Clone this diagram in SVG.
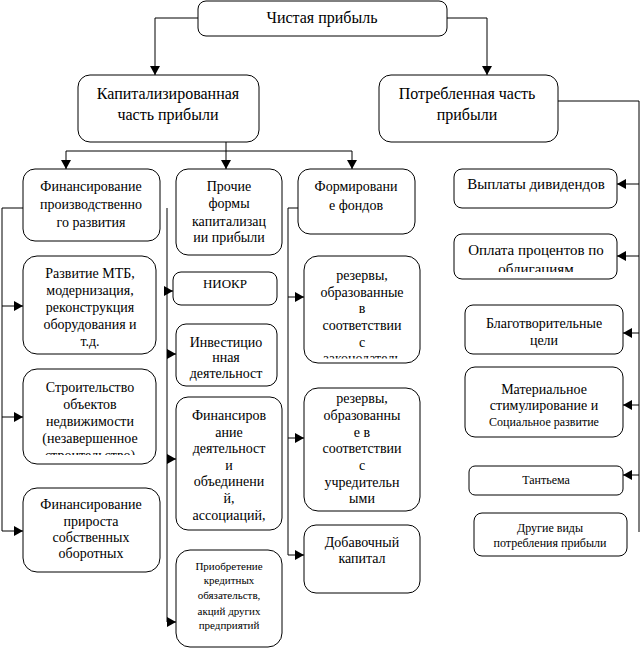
<svg xmlns="http://www.w3.org/2000/svg" width="642" height="650" viewBox="0 0 642 650">
<style>
.box{fill:#fff;stroke:#000;stroke-width:1}
.c{fill:none;stroke:#000;stroke-width:1}
text{font-family:"Liberation Serif","Times New Roman",serif;fill:#000;text-anchor:middle}
.t16{font-size:16px}
.t15{font-size:15px}
.t14{font-size:14px}
.t13{font-size:13px}
.t12{font-size:12px}
.t11{font-size:11px}
</style>
<defs>
<marker id="ah" markerUnits="userSpaceOnUse" markerWidth="10" markerHeight="10" refX="9" refY="5" orient="auto">
<path d="M0,0 L9,5 L0,10 z" fill="#000"/>
</marker>
<clipPath id="clipStroit"><rect x="23" y="369" width="133" height="86"/></clipPath>
<clipPath id="clipRez1"><rect x="304" y="256" width="116" height="102.5"/></clipPath>
<clipPath id="clipOpl"><rect x="454" y="234" width="163" height="38"/></clipPath>
</defs>
<rect width="642" height="650" fill="#fff"/>
<g id="connectors">
<path class="c" d="M198,18 H155 V75" marker-end="url(#ah)"/>
<path class="c" d="M447,18 H487 V75" marker-end="url(#ah)"/>
<path class="c" d="M226,142 V151 M66,151 H352"/>
<path class="c" d="M66,151 V169" marker-end="url(#ah)"/>
<path class="c" d="M226,151 V169" marker-end="url(#ah)"/>
<path class="c" d="M352,151 V169" marker-end="url(#ah)"/>
<path class="c" d="M558,101 H639 V532"/>
<path class="c" d="M639,184 H617" marker-end="url(#ah)"/>
<path class="c" d="M639,256 H617" marker-end="url(#ah)"/>
<path class="c" d="M639,333 H623" marker-end="url(#ah)"/>
<path class="c" d="M639,405 H623" marker-end="url(#ah)"/>
<path class="c" d="M639,475 H623" marker-end="url(#ah)"/>
<path class="c" d="M23,208 H2 V531"/>
<path class="c" d="M2,306 H23" marker-end="url(#ah)"/>
<path class="c" d="M2,417 H23" marker-end="url(#ah)"/>
<path class="c" d="M2,531 H23" marker-end="url(#ah)"/>
<path class="c" d="M167,208 V622"/>
<path class="c" d="M167,291 H173" marker-end="url(#ah)"/>
<path class="c" d="M167,354 H176" marker-end="url(#ah)"/>
<path class="c" d="M167,459 H176" marker-end="url(#ah)"/>
<path class="c" d="M167,622 H176" marker-end="url(#ah)"/>
<path class="c" d="M298,208 H288 V555"/>
<path class="c" d="M288,297 H304" marker-end="url(#ah)"/>
<path class="c" d="M288,438 H304" marker-end="url(#ah)"/>
<path class="c" d="M288,555 H304" marker-end="url(#ah)"/>
</g>
<g id="n-net-profit">
<rect class="box" x="198" y="1" width="249" height="35" rx="8"/>
<text class="t16" x="322" y="23">Чистая прибыль</text>
</g>
<g id="n-capitalized">
<rect class="box" x="78" y="75" width="181" height="67" rx="12"/>
<text class="t16" x="168" y="99">Капитализированная</text>
<text class="t16" x="168" y="120">часть прибыли</text>
</g>
<g id="n-consumed">
<rect class="box" x="379" y="75" width="179" height="67" rx="12"/>
<text class="t16" x="467" y="99">Потребленная часть</text>
<text class="t16" x="467" y="120">прибыли</text>
</g>
<g id="n-fin-prod">
<rect class="box" x="23" y="169" width="137" height="72" rx="12"/>
<text class="t14" x="91" y="191">Финансирование</text>
<text class="t14" x="91" y="209">производственно</text>
<text class="t14" x="91" y="227">го развития</text>
</g>
<g id="n-mtb">
<rect class="box" x="23" y="256" width="133" height="98" rx="14"/>
<text class="t14" x="90" y="278">Развитие МТБ,</text>
<text class="t14" x="90" y="295">модернизация,</text>
<text class="t14" x="90" y="312">реконструкция</text>
<text class="t14" x="90" y="329">оборудования и</text>
<text class="t14" x="90" y="346">т.д.</text>
</g>
<g id="n-construction">
<rect class="box" x="23" y="369" width="133" height="95" rx="14"/>
<g clip-path="url(#clipStroit)">
<text class="t14" x="90" y="392">Строительство</text>
<text class="t14" x="90" y="409">объектов</text>
<text class="t14" x="90" y="426">недвижимости</text>
<text class="t14" x="90" y="443">(незавершенное</text>
<text class="t14" x="90" y="460">строительство)</text>
</g>
</g>
<g id="n-working-capital">
<rect class="box" x="23" y="488" width="137" height="84" rx="14"/>
<text class="t14" x="91" y="509">Финансирование</text>
<text class="t14" x="91" y="526">прироста</text>
<text class="t14" x="91" y="542">собственных</text>
<text class="t14" x="91" y="558">оборотных</text>
</g>
<g id="n-other-forms">
<rect class="box" x="176" y="169" width="106" height="86" rx="12"/>
<text class="t14" x="229" y="191">Прочие</text>
<text class="t14" x="229" y="208">формы</text>
<text class="t14" x="229" y="226">капитализац</text>
<text class="t14" x="229" y="242">ии прибыли</text>
</g>
<g id="n-niokr">
<rect class="box" x="173" y="272" width="104" height="33" rx="8"/>
<text class="t13" x="225" y="288">НИОКР</text>
</g>
<g id="n-invest">
<rect class="box" x="176" y="324" width="101" height="62" rx="10"/>
<text class="t14" x="226" y="347">Инвестицио</text>
<text class="t14" x="226" y="362">нная</text>
<text class="t14" x="226" y="378">деятельност</text>
</g>
<g id="n-fin-assoc">
<rect class="box" x="176" y="397" width="106" height="133" rx="12"/>
<text class="t14" x="229" y="420">Финансиров</text>
<text class="t14" x="229" y="437">ание</text>
<text class="t14" x="229" y="453">деятельност</text>
<text class="t14" x="229" y="470">и</text>
<text class="t14" x="229" y="486">объединени</text>
<text class="t14" x="229" y="503">й,</text>
<text class="t14" x="229" y="520">ассоциаций,</text>
</g>
<g id="n-securities">
<rect class="box" x="176" y="550" width="106" height="97" rx="14"/>
<text class="t11" x="229" y="570">Приобретение</text>
<text class="t11" x="229" y="584">кредитных</text>
<text class="t11" x="229" y="599">обязательств,</text>
<text class="t11" x="229" y="615">акций других</text>
<text class="t11" x="229" y="629">предприятий</text>
</g>
<g id="n-funds">
<rect class="box" x="298" y="169" width="117" height="65" rx="12"/>
<text class="t14" x="356" y="191">Формировани</text>
<text class="t14" x="356" y="210">е фондов</text>
</g>
<g id="n-reserves-law">
<rect class="box" x="304" y="256" width="116" height="107" rx="14"/>
<g clip-path="url(#clipRez1)">
<text class="t14" x="362" y="280">резервы,</text>
<text class="t14" x="362" y="297">образованные</text>
<text class="t14" x="362" y="313">в</text>
<text class="t14" x="362" y="330">соответствии</text>
<text class="t14" x="362" y="347">с</text>
<text class="t14" x="362" y="363">законодатель</text>
</g>
</g>
<g id="n-reserves-charter">
<rect class="box" x="304" y="388" width="116" height="123" rx="14"/>
<text class="t14" x="362" y="403">резервы,</text>
<text class="t14" x="362" y="420">образованны</text>
<text class="t14" x="362" y="437">е в</text>
<text class="t14" x="362" y="453">соответствии</text>
<text class="t14" x="362" y="470">с</text>
<text class="t14" x="362" y="487">учредительн</text>
<text class="t14" x="362" y="503">ыми</text>
</g>
<g id="n-add-capital">
<rect class="box" x="304" y="525" width="116" height="68" rx="12"/>
<text class="t14" x="362" y="547">Добавочный</text>
<text class="t14" x="362" y="563">капитал</text>
</g>
<g id="n-dividends">
<rect class="box" x="454" y="169" width="163" height="39" rx="8"/>
<text class="t15" x="536" y="189">Выплаты дивидендов</text>
</g>
<g id="n-bond-interest">
<rect class="box" x="454" y="234" width="163" height="45" rx="8"/>
<g clip-path="url(#clipOpl)">
<text class="t15" x="536" y="255">Оплата процентов по</text>
<text class="t15" x="536" y="274">облигациям</text>
</g>
</g>
<g id="n-charity">
<rect class="box" x="465" y="305" width="158" height="49" rx="8"/>
<text class="t14" x="544" y="328">Благотворительные</text>
<text class="t14" x="544" y="345">цели</text>
</g>
<g id="n-incentives">
<rect class="box" x="465" y="367" width="158" height="70" rx="10"/>
<text class="t14" x="544" y="394">Материальное</text>
<text class="t14" x="544" y="410">стимулирование и</text>
<text class="t12" x="544" y="426">Социальное развитие</text>
</g>
<g id="n-tantieme">
<rect class="box" x="469" y="466" width="154" height="29" rx="6"/>
<text class="t12" x="546" y="484">Тантьема</text>
</g>
<g id="n-other-uses">
<rect class="box" x="474" y="513" width="153" height="43" rx="8"/>
<text class="t12" x="550" y="532">Другие виды</text>
<text class="t12" x="550" y="547">потребления прибыли</text>
</g>
</svg>
